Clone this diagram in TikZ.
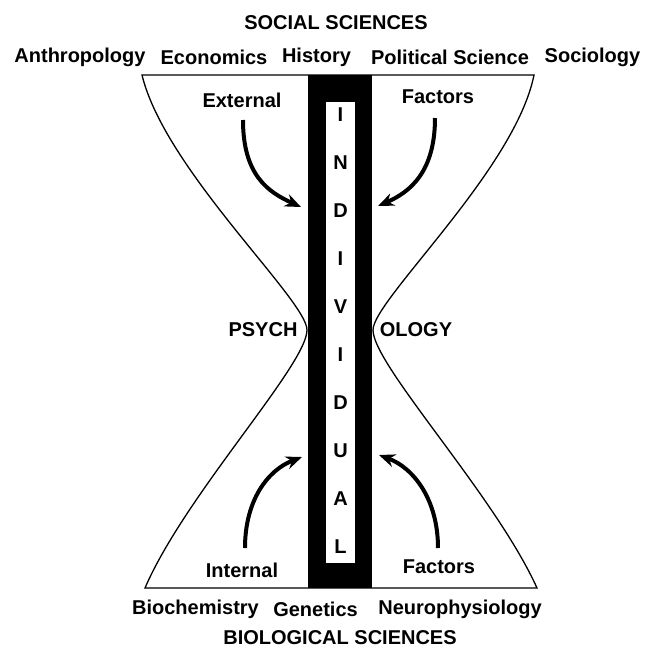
\documentclass[tikz,border=0pt]{standalone}
\usepackage{fontspec}
\setmainfont{Liberation Sans}
\usetikzlibrary{arrows.meta}

\begin{document}
\begin{tikzpicture}[
    x=0.5pt, y=-0.5pt,
    txt/.style={font=\bfseries, inner sep=1pt},
    letter/.style={font=\bfseries, inner sep=0pt},
    outline/.style={draw=black, line width=0.65pt, fill=white},
    arrow/.style={-{Stealth[length=8pt, width=6.5pt]}, line width=2pt},
]
\useasboundingbox (0,0) rectangle (645,654);

\draw[outline] (142,75) -- (534,75)
    .. controls (515,170) and (373,300) .. (373,330)
    .. controls (373,365) and (495,495) .. (537,588)
    -- (145,588)
    .. controls (185,495) and (307,365) .. (307,330)
    .. controls (307,300) and (165,170) .. (142,75) -- cycle;

\fill[black] (308,75) rectangle (372,588);
\fill[white] (326,102) rectangle (355,563);

\foreach \ch [count=\i from 0] in {I,N,D,I,V,I,D,U,A,L}
    \node[letter] (ltr\i) at (340.5,{115+48*\i}) {\ch};

\node[txt] (social) at (336,23) {SOCIAL SCIENCES};
\node[txt] (anthro) at (80,57) {Anthropology};
\node[txt] (econ) at (214,57) {Economics};
\node[txt] (hist) at (316.5,57) {History};
\node[txt] (polsci) at (450,57) {Political Science};
\node[txt] (socio) at (592.5,57) {Sociology};

\node[txt] (external) at (242,100) {External};
\node[txt] (extfact) at (438,97) {Factors};
\node[txt] (psych) at (263,330) {PSYCH};
\node[txt] (ology) at (416,330) {OLOGY};
\node[txt] (internal) at (242,570) {Internal};
\node[txt] (intfact) at (439,567) {Factors};

\node[txt] (biochem) at (195.5,609) {Biochemistry};
\node[txt] (genet) at (315.5,609) {Genetics};
\node[txt] (neuro) at (460,609) {Neurophysiology};
\node[txt] (bio) at (340,638) {BIOLOGICAL SCIENCES};

\coordinate (extA) at (243,120);
\coordinate (extB) at (301,207);
\coordinate (efA) at (435,118);
\coordinate (efB) at (378,206);
\coordinate (intA) at (245,548);
\coordinate (intB) at (302,457);
\coordinate (ifA) at (438,548);
\coordinate (ifB) at (379,455);

\draw[arrow] (extA) .. controls (243,175) and (268,192) .. (extB);
\draw[arrow] (efA) .. controls (435,172) and (410,192) .. (efB);
\draw[arrow] (intA) .. controls (245,500) and (268,470) .. (intB);
\draw[arrow] (ifA) .. controls (438,500) and (414,468) .. (ifB);

\end{tikzpicture}
\end{document}
